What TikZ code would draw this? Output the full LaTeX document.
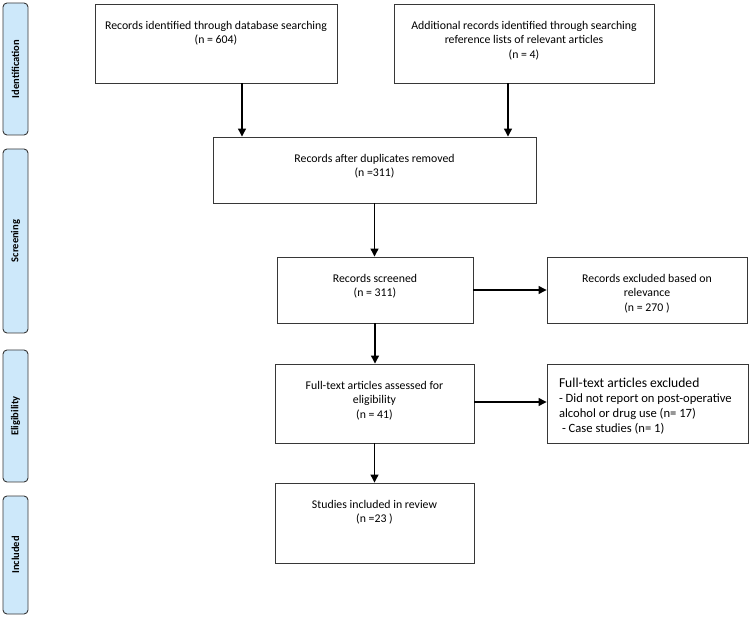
\documentclass[tikz,border=0pt]{standalone}
\usepackage{fontspec}
\setmainfont{Carlito}
\usetikzlibrary{arrows.meta}

\definecolor{stagefill}{RGB}{205,232,250}
\definecolor{boxline}{RGB}{55,55,55}

\tikzset{
  stage/.style={draw=boxline, fill=stagefill, rounded corners=4pt, line width=0.9pt,
    rotate=90, inner sep=0pt, font=\fontsize{10.5}{12}\selectfont\bfseries},
  flowbox/.style={draw=boxline, line width=0.9pt, inner sep=0pt,
    font=\fontsize{11.8}{14.5}\selectfont},
  flowarrow/.style={-{Triangle[length=8pt,width=8pt]}, line width=1.2pt}
}

% box text: width, height, lines
\newcommand{\boxtext}[3]{\parbox[t][#2][t]{#1}{\vspace*{17pt}\centering #3\par}}
\newcommand{\boxlist}[3]{\parbox[t][#2][t]{#1}{\vspace*{14.5pt}\raggedright\leftskip=12pt #3\par}}

\begin{document}
\begin{tikzpicture}[x=1pt, y=-1pt]
  \useasboundingbox (0,0) rectangle (750,617);

  % Stage labels down the left side
  \node[stage, minimum width=132pt, minimum height=25pt] (ident)  at (15.5,69)  {Identification};
  \node[stage, minimum width=184pt, minimum height=25pt] (screen) at (15.5,241) {Screening};
  \node[stage, minimum width=132pt, minimum height=25pt] (elig)   at (15.5,416) {Eligibility};
  \node[stage, minimum width=118pt, minimum height=25pt] (incl)   at (15.5,555) {Included};

  % Identification
  \node[flowbox] (db) at (216,43.5)
    {\boxtext{242pt}{79pt}{Records identified through database searching\\(n = 604)}};
  \node[flowbox] (refs) at (524,43.5)
    {\boxtext{260pt}{79pt}{Additional records identified through searching\\reference lists of relevant articles\\(n = 4)}};

  % Screening
  \node[flowbox] (dup) at (374.5,170)
    {\boxtext{323pt}{66pt}{Records after duplicates removed\\(n =311)}};
  \node[flowbox] (scr) at (375,290)
    {\boxtext{196pt}{66pt}{Records screened\\(n = 311)}};
  \node[flowbox] (excl) at (647,290)
    {\boxtext{200pt}{66pt}{Records excluded based on\\relevance\\(n = 270 )}};

  % Eligibility
  \node[flowbox] (full) at (374.5,403.5)
    {\boxtext{199pt}{79pt}{Full-text articles assessed for\\eligibility\\(n = 41)}};
  \node[flowbox] (fexcl) at (647.5,403.5)
    {\boxlist{201pt}{79pt}{{\fontsize{13.6}{15}\selectfont Full-text articles excluded\par}
      \fontsize{12.6}{15}\selectfont
      - Did not report on post-operative\\alcohol or drug use (n= 17)\\\hspace*{3pt}- Case studies (n= 1)}};

  % Included
  \node[flowbox] (studies) at (374.5,523)
    {\boxtext{199pt}{80pt}{Studies included in review\\(n =23 )}};

  % Arrows
  \draw[flowarrow] ([xshift=26pt]db.south) -- ([xshift=26pt]db.south |- dup.north);
  \draw[flowarrow] ([xshift=-16pt]refs.south) -- ([xshift=-16pt]refs.south |- dup.north);
  \draw[flowarrow] (dup.south) -- (dup.south |- scr.north);
  \draw[flowarrow] (scr.east) -- (excl.west);
  \draw[flowarrow] (scr.south) -- (scr.south |- full.north);
  \draw[flowarrow] ([yshift=1.5pt]full.east) -- ([yshift=1.5pt]full.east -| fexcl.west);
  \draw[flowarrow] (full.south) -- (full.south |- studies.north);
\end{tikzpicture}
\end{document}
